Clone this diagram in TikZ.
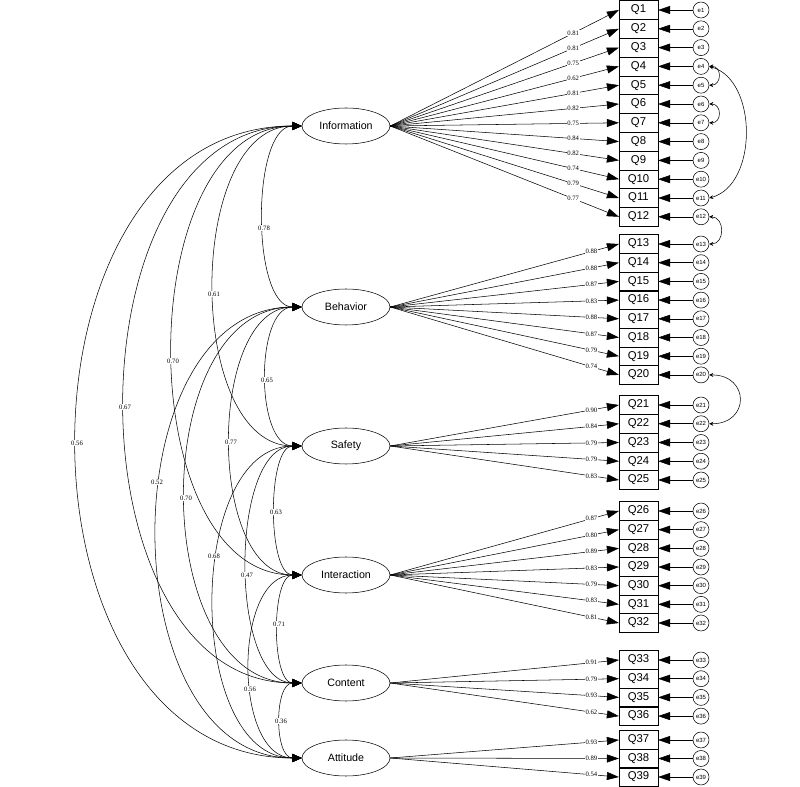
\documentclass[tikz,border=0pt]{standalone}
\usepackage{fontspec}
\setmainfont{Liberation Sans}
\newfontfamily\numfont{Liberation Serif}
\usetikzlibrary{shapes.geometric,arrows.meta}
\begin{document}
\begin{tikzpicture}[x=0.75pt,y=-0.75pt,
  latent/.style={draw,ellipse,minimum width=66pt,minimum height=27pt,inner sep=0pt,font=\fontsize{8}{9}\selectfont},
  item/.style={draw,minimum width=29pt,minimum height=14.1pt,inner sep=0pt,font=\fontsize{8.5}{9}\selectfont},
  err/.style={draw,circle,minimum size=12pt,inner sep=0pt,font=\fontsize{4.5}{5}\selectfont},
  big/.style={-{Triangle[length=9pt,width=6pt]}},
  cov/.style={{Triangle[length=7pt,width=6pt]}-{Triangle[length=7pt,width=6pt]}},
  ecov/.style={{Stealth[length=3pt,width=3pt]}-{Stealth[length=3pt,width=3pt]}},
  num/.style={font=\numfont\fontsize{5}{5}\selectfont,fill=white,inner sep=0.5pt}]
\useasboundingbox (0,0) rectangle (800,787);
\node[latent] (L1) at (346,126) {Information};
\node[latent] (L2) at (346,307) {Behavior};
\node[latent] (L3) at (346,446) {Safety};
\node[latent] (L4) at (346,575) {Interaction};
\node[latent] (L5) at (346,683) {Content};
\node[latent] (L6) at (346,758) {Attitude};
\foreach \L/\a/\y/\s/\p/\vals in {
 1/1/10/18.8/0.8/{.81,.81,.75,.62,.81,.82,.75,.84,.82,.74,.79,.77},
 2/13/244/18.7/0.88/{.88,.88,.87,.83,.88,.87,.79,.74},
 3/21/405/18.75/0.88/{.90,.84,.79,.79,.83},
 4/26/511/18.67/0.88/{.87,.80,.89,.83,.79,.83,.81},
 5/33/660/18.7/0.88/{.91,.79,.93,.62},
 6/37/740/18.5/0.88/{.93,.89,.54}}{
  \foreach \v [count=\k from 0] in \vals {
    \pgfmathtruncatemacro{\n}{\a+\k}
    \node[item] (q\n) at (638.5,\y+\k*\s) {Q\n};
    \node[err] (e\n) at (701,\y+\k*\s) {e\n};
    \draw[big] (e\n) -- (q\n);
    \draw[big] (L\L.east) -- node[num,pos=\p]{0\v} (q\n.west);
  }
}
\foreach \i/\j/\ya/\yb/\xc/\xl/\yl/\v in {
 1/2/126/307/251/264/228/0.78,
 1/3/126/446/185/214/294/0.61,
 1/4/126/575/130/173/361/0.70,
 1/5/126/683/66/125/407/0.67,
 1/6/126/758/2/77/443/0.56,
 2/3/307/446/255/267/380/0.65,
 2/4/307/575/207/231/442/0.77,
 2/5/307/683/147/186/498/0.70,
 2/6/307/758/109/157/482/0.52,
 3/4/446/575/267/276/512/0.63,
 3/5/446/683/229/247/575/0.47,
 3/6/446/758/185/214/556/0.68,
 4/5/575/683/271/279/624/0.71,
 4/6/575/758/233/250/689/0.56,
 5/6/683/758/274/281/721/0.36}{
  \draw[cov] (L\i.west) .. controls (\xc,\ya) and (\xc,\yb) .. (L\j.west);
  \node[num] at (\xl,\yl) {\v};
}
\draw[ecov] (e4.east) .. controls (722,66) and (722,85) .. (e5.east);
\draw[ecov] (e6.east) .. controls (722,104) and (722,123) .. (e7.east);
\draw[ecov] (e4.east) .. controls (758,80) and (758,185) .. (e11.east);
\draw[ecov] (e12.east) .. controls (725,217) and (725,244) .. (e13.east);
\draw[ecov] (e20.east) .. controls (750,375) and (750,424) .. (e22.east);
\end{tikzpicture}
\end{document}
